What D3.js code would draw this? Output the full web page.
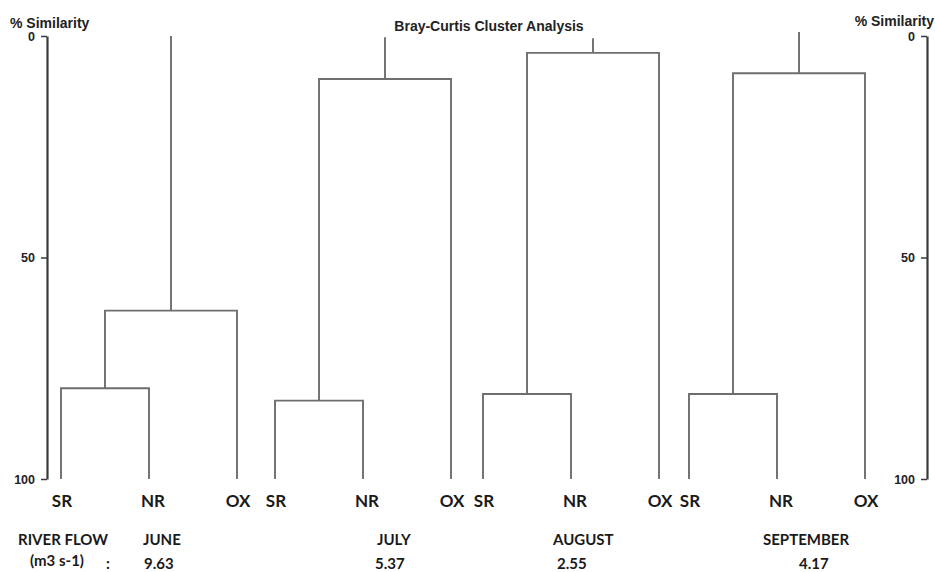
<!DOCTYPE html>
<html>
<head>
<meta charset="utf-8">
<script src="https://cdn.jsdelivr.net/npm/d3@7"></script>
<style>
  body { margin: 0; background: #fff; }
  svg { display: block; }
</style>
</head>
<body>
<script>
// data
const months = ['JUNE', 'JULY', 'AUGUST', 'SEPTEMBER'];
const flows = ['9.63', '5.37', '2.55', '4.17'];
const sites = ['SR', 'NR', 'OX'];
const joinSrNr = [79.5, 82.3, 80.8, 80.8];   // % similarity where SR and NR join
const joinOx = [62.0, 9.7, 3.8, 8.4];        // where OX joins the SR-NR cluster
const rootTop = [0, 0.3, 0.5, -0.9];         // top end of each stem
const yTicks = [0, 50, 100];

// layout
const w = 935, h = 572;
const groupX = [61, 275, 483, 689];
const groupW = 176;
const monthX = [143, 377, 553, 763];
const flowX = [144, 375, 557, 799];
const lineCol = '#6e6e6e';

const svg = d3.select('body').append('svg')
  .attr('width', w)
  .attr('height', h);

const y = d3.scaleLinear().domain([0, 100]).range([36, 479]);

// axes, both with ticks on the left side
function drawAxis(xpos) {
  const g = svg.append('g')
    .attr('transform', 'translate(' + xpos + ',0)')
    .call(d3.axisLeft(y).tickValues(yTicks).tickSize(6).tickSizeOuter(0).tickPadding(6));
  g.select('.domain').attr('stroke', '#3a3a3a').attr('stroke-width', 2.2);
  g.selectAll('.tick line').attr('stroke', '#3a3a3a').attr('stroke-width', 1.5);
  g.selectAll('.tick text')
    .attr('fill', '#222')
    .style('font-family', '"Liberation Sans", Arial, sans-serif')
    .style('font-weight', 'bold')
    .style('font-size', '12.5px');
}
drawAxis(47);
drawAxis(927);

const headFont = '"Liberation Sans", Arial, sans-serif';
svg.append('text').attr('x', 10).attr('y', 28)
  .style('font-family', headFont).style('font-weight', 'bold').style('font-size', '14px')
  .attr('fill', '#222').text('% Similarity');
svg.append('text').attr('x', 934).attr('y', 26).attr('text-anchor', 'end')
  .style('font-family', headFont).style('font-weight', 'bold').style('font-size', '14px')
  .attr('fill', '#222').text('% Similarity');
svg.append('text').attr('x', 489).attr('y', 31).attr('text-anchor', 'middle')
  .style('font-family', headFont).style('font-weight', 'bold').style('font-size', '14px')
  .attr('fill', '#222').text('Bray-Curtis Cluster Analysis');

// dendrograms
months.forEach(function(m, i) {
  const x = d3.scalePoint().domain(sites).range([groupX[i], groupX[i] + groupW]);
  const xs = x('SR'), xn = x('NR'), xo = x('OX');
  const mid1 = (xs + xn) / 2;
  const mid2 = (mid1 + xo) / 2;
  const p = d3.path();
  p.moveTo(xs, y(100)); p.lineTo(xs, y(joinSrNr[i])); p.lineTo(xn, y(joinSrNr[i])); p.lineTo(xn, y(100));
  p.moveTo(mid1, y(joinSrNr[i])); p.lineTo(mid1, y(joinOx[i])); p.lineTo(xo, y(joinOx[i])); p.lineTo(xo, y(100));
  p.moveTo(mid2, y(joinOx[i])); p.lineTo(mid2, y(rootTop[i]));
  svg.append('path').attr('d', p.toString())
    .attr('fill', 'none').attr('stroke', lineCol).attr('stroke-width', 1.9);

  svg.selectAll(null).data(sites).enter().append('text')
    .attr('x', d => x(d) + (d == 'NR' ? 4 : 1))
    .attr('y', 507)
    .attr('text-anchor', 'middle')
    .style('font-family', 'Lato, sans-serif').style('font-weight', 'bold').style('font-size', '17px')
    .attr('fill', '#1a1a1a')
    .text(d => d);

  svg.append('text').attr('x', monthX[i]).attr('y', 545)
    .style('font-family', 'Lato, sans-serif').style('font-weight', 'bold').style('font-size', '15px')
    .attr('fill', '#1a1a1a').text(m);
  svg.append('text').attr('x', flowX[i]).attr('y', 569)
    .style('font-family', 'Lato, sans-serif').style('font-weight', 'bold').style('font-size', '15px')
    .attr('fill', '#1a1a1a').text(flows[i]);
});

const bottomFont = 'Lato, sans-serif';
svg.append('text').attr('x', 18).attr('y', 545)
  .style('font-family', bottomFont).style('font-weight', 'bold').style('font-size', '15px')
  .attr('fill', '#1a1a1a').text('RIVER FLOW');
svg.append('text').attr('x', 30).attr('y', 566)
  .style('font-family', bottomFont).style('font-weight', 'bold').style('font-size', '15px')
  .attr('fill', '#1a1a1a').text('(m3 s-1)');
svg.append('text').attr('x', 106).attr('y', 569)
  .style('font-family', bottomFont).style('font-weight', 'bold').style('font-size', '15px')
  .attr('fill', '#1a1a1a').text(':');
</script>
</body>
</html>
